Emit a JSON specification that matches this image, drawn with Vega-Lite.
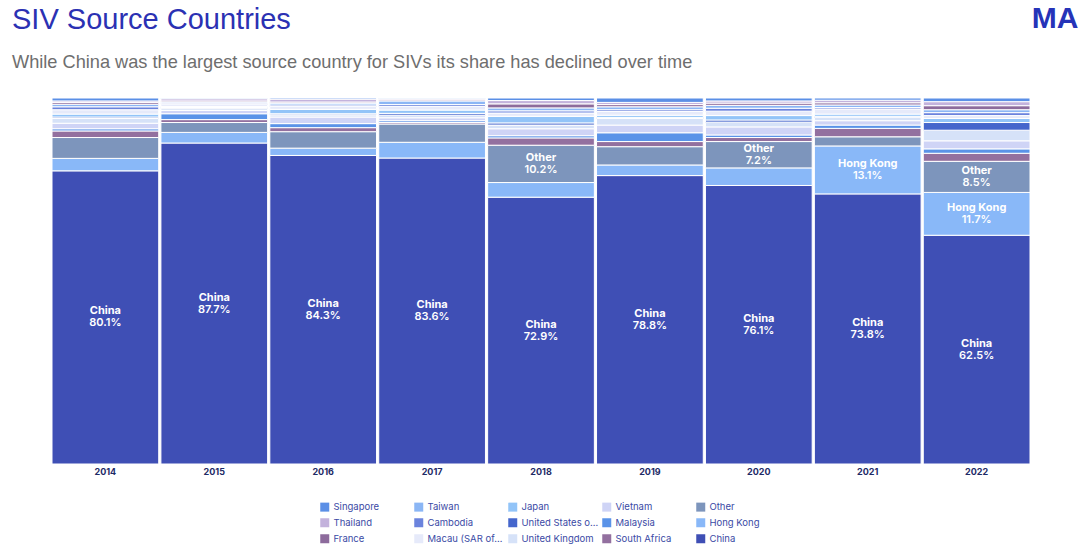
{
  "$schema": "https://vega.github.io/schema/vega-lite/v6.json",
  "width": 978,
  "height": 366,
  "autosize": {"type": "none"},
  "padding": {"left": 52, "top": 98, "right": 50, "bottom": 89},
  "background": "white",
  "title": {
    "text": "SIV Source Countries",
    "subtitle": "While China was the largest source country for SIVs its share has declined over time",
    "anchor": "start",
    "frame": "group",
    "dx": -40,
    "dy": 88,
    "font": "Liberation Sans",
    "fontSize": 29,
    "fontWeight": "normal",
    "color": "#2b31b3",
    "subtitleFont": "Liberation Sans",
    "subtitleFontSize": 18.2,
    "subtitleColor": "#6e6e6e",
    "subtitlePadding": 19,
    "offset": 20
  },
  "data": {"values": [
    {"year": "2014", "country": "China", "share": 80.1},
    {"year": "2014", "country": "Hong Kong", "share": 3.4},
    {"year": "2014", "country": "Other", "share": 5.7},
    {"year": "2014", "country": "South Africa", "share": 1.8},
    {"year": "2014", "country": "Malaysia", "share": 0.6},
    {"year": "2014", "country": "Vietnam", "share": 1.5},
    {"year": "2014", "country": "United Kingdom", "share": 1.3},
    {"year": "2014", "country": "United States of America", "share": 0.4},
    {"year": "2014", "country": "Japan", "share": 0.8},
    {"year": "2014", "country": "Macau (SAR of China)", "share": 1.2},
    {"year": "2014", "country": "Cambodia", "share": 0.8},
    {"year": "2014", "country": "Taiwan", "share": 0.7},
    {"year": "2014", "country": "France", "share": 0.5},
    {"year": "2014", "country": "Thailand", "share": 0.4},
    {"year": "2014", "country": "Singapore", "share": 0.8},

    {"year": "2015", "country": "China", "share": 87.7},
    {"year": "2015", "country": "Hong Kong", "share": 2.9},
    {"year": "2015", "country": "Other", "share": 2.7},
    {"year": "2015", "country": "South Africa", "share": 0.8},
    {"year": "2015", "country": "Malaysia", "share": 1.6},
    {"year": "2015", "country": "Vietnam", "share": 0.9},
    {"year": "2015", "country": "United Kingdom", "share": 0.5},
    {"year": "2015", "country": "United States of America", "share": 0.3},
    {"year": "2015", "country": "Japan", "share": 0.3},
    {"year": "2015", "country": "Macau (SAR of China)", "share": 0.6},
    {"year": "2015", "country": "Cambodia", "share": 0.3},
    {"year": "2015", "country": "Taiwan", "share": 0.3},
    {"year": "2015", "country": "France", "share": 0.3},
    {"year": "2015", "country": "Thailand", "share": 0.6},
    {"year": "2015", "country": "Singapore", "share": 0.2},

    {"year": "2016", "country": "China", "share": 84.3},
    {"year": "2016", "country": "Hong Kong", "share": 2.0},
    {"year": "2016", "country": "Other", "share": 4.5},
    {"year": "2016", "country": "South Africa", "share": 1.1},
    {"year": "2016", "country": "Malaysia", "share": 1.1},
    {"year": "2016", "country": "Vietnam", "share": 1.8},
    {"year": "2016", "country": "United Kingdom", "share": 0.6},
    {"year": "2016", "country": "United States of America", "share": 0.3},
    {"year": "2016", "country": "Japan", "share": 1.2},
    {"year": "2016", "country": "Macau (SAR of China)", "share": 0.8},
    {"year": "2016", "country": "Cambodia", "share": 0.4},
    {"year": "2016", "country": "Taiwan", "share": 0.5},
    {"year": "2016", "country": "France", "share": 0.3},
    {"year": "2016", "country": "Thailand", "share": 0.8},
    {"year": "2016", "country": "Singapore", "share": 0.3},

    {"year": "2017", "country": "China", "share": 83.6},
    {"year": "2017", "country": "Hong Kong", "share": 4.3},
    {"year": "2017", "country": "Other", "share": 5.0},
    {"year": "2017", "country": "South Africa", "share": 0.4},
    {"year": "2017", "country": "Malaysia", "share": 0.5},
    {"year": "2017", "country": "Vietnam", "share": 0.8},
    {"year": "2017", "country": "United Kingdom", "share": 0.7},
    {"year": "2017", "country": "United States of America", "share": 0.5},
    {"year": "2017", "country": "Japan", "share": 0.9},
    {"year": "2017", "country": "Macau (SAR of China)", "share": 1.0},
    {"year": "2017", "country": "Cambodia", "share": 0.5},
    {"year": "2017", "country": "Taiwan", "share": 1.0},
    {"year": "2017", "country": "France", "share": 0.3},
    {"year": "2017", "country": "Thailand", "share": 0.3},
    {"year": "2017", "country": "Singapore", "share": 0.2},

    {"year": "2018", "country": "China", "share": 72.9},
    {"year": "2018", "country": "Hong Kong", "share": 4.0},
    {"year": "2018", "country": "Other", "share": 10.2},
    {"year": "2018", "country": "South Africa", "share": 2.0},
    {"year": "2018", "country": "Malaysia", "share": 0.6},
    {"year": "2018", "country": "Vietnam", "share": 1.9},
    {"year": "2018", "country": "United Kingdom", "share": 1.0},
    {"year": "2018", "country": "United States of America", "share": 0.6},
    {"year": "2018", "country": "Japan", "share": 1.8},
    {"year": "2018", "country": "Macau (SAR of China)", "share": 0.9},
    {"year": "2018", "country": "Cambodia", "share": 0.6},
    {"year": "2018", "country": "Taiwan", "share": 0.8},
    {"year": "2018", "country": "France", "share": 1.1},
    {"year": "2018", "country": "Thailand", "share": 0.9},
    {"year": "2018", "country": "Singapore", "share": 0.7},

    {"year": "2019", "country": "China", "share": 78.8},
    {"year": "2019", "country": "Hong Kong", "share": 2.9},
    {"year": "2019", "country": "Other", "share": 5.0},
    {"year": "2019", "country": "South Africa", "share": 1.4},
    {"year": "2019", "country": "Malaysia", "share": 2.4},
    {"year": "2019", "country": "Vietnam", "share": 2.1},
    {"year": "2019", "country": "United Kingdom", "share": 1.8},
    {"year": "2019", "country": "United States of America", "share": 0.3},
    {"year": "2019", "country": "Japan", "share": 0.6},
    {"year": "2019", "country": "Macau (SAR of China)", "share": 1.0},
    {"year": "2019", "country": "Cambodia", "share": 0.5},
    {"year": "2019", "country": "Taiwan", "share": 0.8},
    {"year": "2019", "country": "France", "share": 0.6},
    {"year": "2019", "country": "Thailand", "share": 0.6},
    {"year": "2019", "country": "Singapore", "share": 1.2},

    {"year": "2020", "country": "China", "share": 76.1},
    {"year": "2020", "country": "Hong Kong", "share": 4.8},
    {"year": "2020", "country": "Other", "share": 7.2},
    {"year": "2020", "country": "South Africa", "share": 1.1},
    {"year": "2020", "country": "Malaysia", "share": 0.7},
    {"year": "2020", "country": "Vietnam", "share": 2.2},
    {"year": "2020", "country": "United Kingdom", "share": 1.3},
    {"year": "2020", "country": "United States of America", "share": 0.6},
    {"year": "2020", "country": "Japan", "share": 1.2},
    {"year": "2020", "country": "Macau (SAR of China)", "share": 1.2},
    {"year": "2020", "country": "Cambodia", "share": 0.8},
    {"year": "2020", "country": "Taiwan", "share": 0.8},
    {"year": "2020", "country": "France", "share": 0.6},
    {"year": "2020", "country": "Thailand", "share": 0.6},
    {"year": "2020", "country": "Singapore", "share": 0.8},

    {"year": "2021", "country": "China", "share": 73.8},
    {"year": "2021", "country": "Hong Kong", "share": 13.1},
    {"year": "2021", "country": "Other", "share": 2.5},
    {"year": "2021", "country": "South Africa", "share": 2.3},
    {"year": "2021", "country": "Malaysia", "share": 0.9},
    {"year": "2021", "country": "Vietnam", "share": 1.2},
    {"year": "2021", "country": "United Kingdom", "share": 0.9},
    {"year": "2021", "country": "United States of America", "share": 0.3},
    {"year": "2021", "country": "Japan", "share": 0.6},
    {"year": "2021", "country": "Macau (SAR of China)", "share": 1.4},
    {"year": "2021", "country": "Cambodia", "share": 0.4},
    {"year": "2021", "country": "Taiwan", "share": 0.7},
    {"year": "2021", "country": "France", "share": 0.6},
    {"year": "2021", "country": "Thailand", "share": 0.7},
    {"year": "2021", "country": "Singapore", "share": 0.6},

    {"year": "2022", "country": "China", "share": 62.5},
    {"year": "2022", "country": "Hong Kong", "share": 11.7},
    {"year": "2022", "country": "Other", "share": 8.5},
    {"year": "2022", "country": "South Africa", "share": 2.2},
    {"year": "2022", "country": "Malaysia", "share": 1.2},
    {"year": "2022", "country": "Vietnam", "share": 2.2},
    {"year": "2022", "country": "United Kingdom", "share": 2.9},
    {"year": "2022", "country": "United States of America", "share": 2.1},
    {"year": "2022", "country": "Japan", "share": 1.1},
    {"year": "2022", "country": "Macau (SAR of China)", "share": 0.8},
    {"year": "2022", "country": "Cambodia", "share": 0.8},
    {"year": "2022", "country": "Taiwan", "share": 0.8},
    {"year": "2022", "country": "France", "share": 1.1},
    {"year": "2022", "country": "Thailand", "share": 1.1},
    {"year": "2022", "country": "Singapore", "share": 1.0}
  ]},
  "transform": [
    {"calculate": "indexof(['China','Hong Kong','Other','South Africa','Malaysia','Vietnam','United Kingdom','United States of America','Japan','Macau (SAR of China)','Cambodia','Taiwan','France','Thailand','Singapore'], datum.country)", "as": "rank"},
    {"stack": "share", "groupby": ["year"], "sort": [{"field": "rank", "order": "ascending"}], "offset": "normalize", "as": ["y0", "y1"]},
    {"calculate": "(datum.y0 + datum.y1) / 2", "as": "mid"},
    {"calculate": "format(datum.share, '.1f') + '%'", "as": "pct"}
  ],
  "encoding": {
    "x": {
      "field": "year",
      "type": "ordinal",
      "scale": {"paddingInner": 0.02, "paddingOuter": 0},
      "axis": {
        "title": null,
        "labelAngle": 0,
        "domain": false,
        "ticks": false,
        "labelPadding": 3,
        "labelFont": "Inter",
        "labelFontWeight": "bold",
        "labelFontSize": 9,
        "labelColor": "#1d2a66"
      }
    }
  },
  "layer": [
    {
      "mark": {"type": "bar", "stroke": "white", "strokeWidth": 1},
      "encoding": {
        "y": {
          "field": "y0",
          "type": "quantitative",
          "scale": {"domain": [0, 1], "nice": false},
          "axis": {
            "title": "MA",
            "labels": false,
            "ticks": false,
            "domain": false,
            "grid": false,
            "titleAngle": 0,
            "titleX": 1026,
            "titleY": -80,
            "titleAlign": "right",
            "titleBaseline": "middle",
            "titleFont": "Liberation Sans",
            "titleFontSize": 30,
            "titleFontWeight": "bold",
            "titleColor": "#2533b8"
          }
        },
        "y2": {"field": "y1"},
        "color": {
          "field": "country",
          "type": "nominal",
          "scale": {
            "domain": ["Singapore", "Taiwan", "Japan", "Vietnam", "Other", "Thailand", "Cambodia", "United States of America", "Malaysia", "Hong Kong", "France", "Macau (SAR of China)", "United Kingdom", "South Africa", "China"],
            "range": ["#5b8fe6", "#8bb6f5", "#92c4f8", "#cfd4f6", "#7d95bc", "#c3b2dc", "#6b83dd", "#4566cc", "#5a93e8", "#89b8f8", "#8d6b9c", "#e6eafa", "#d6e2f8", "#93709f", "#3f4fb5"]
          },
          "legend": {
            "title": null,
            "orient": "none",
            "legendX": 268,
            "legendY": 404,
            "direction": "horizontal",
            "columns": 5,
            "gridAlign": "all",
            "columnPadding": 3,
            "rowPadding": 5,
            "symbolType": "square",
            "symbolSize": 81,
            "symbolStrokeWidth": 0,
            "labelFont": "Inter",
            "labelFontSize": 9.5,
            "labelColor": "#3a4aa5",
            "labelLimit": 78,
            "labelOffset": 4
          }
        }
      }
    },
    {
      "transform": [{"filter": "datum.share >= 7"}],
      "mark": {"type": "text", "font": "Inter", "fontWeight": "bold", "fontSize": 11, "color": "white", "dy": -6},
      "encoding": {
        "y": {"field": "mid", "type": "quantitative"},
        "text": {"field": "country"}
      }
    },
    {
      "transform": [{"filter": "datum.share >= 7"}],
      "mark": {"type": "text", "font": "Inter", "fontWeight": 600, "fontSize": 11, "color": "white", "dy": 6},
      "encoding": {
        "y": {"field": "mid", "type": "quantitative"},
        "text": {"field": "pct"}
      }
    }
  ],
  "config": {"view": {"stroke": null}}
}
